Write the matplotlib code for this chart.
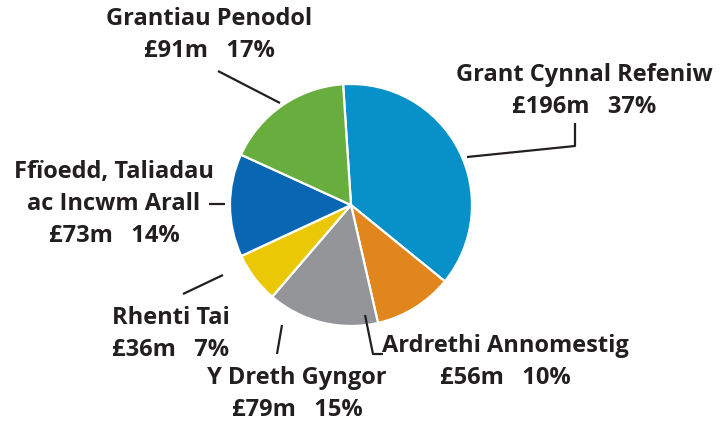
import matplotlib.pyplot as plt

plt.rcParams['font.family'] = ['Open Sans', 'DejaVu Sans']

# income sources, clockwise from the top
names = ['Grant Cynnal Refeniw', 'Ardrethi Annomestig', 'Y Dreth Gyngor',
         'Rhenti Tai', 'Ffïoedd, Taliadau\nac Incwm Arall', 'Grantiau Penodol']
amounts = [196, 56, 79, 36, 73, 91]      # £m
percents = [37, 10, 15, 7, 14, 17]
colors = ['#0791c8', '#e0861c', '#939598', '#ebc806', '#0866b3', '#67ae3e']

# label anchor (pixel coords, y from top) and leader polylines
label_pos = [(584, 91), (505, 362), (297, 394), (171, 334), (114, 204), (209, 35)]
leaders = [
    [(467, 157), (575, 146), (575, 123)],
    [(365, 315), (373, 354), (383, 354)],
    [(277, 354), (282, 325)],
    [(183, 294), (223, 275)],
    [(209, 204), (225, 204)],
    [(218, 71), (280, 103)],
]

W, H = 727, 423
fig = plt.figure(figsize=(W / 100, H / 100), dpi=100)
ax = fig.add_axes([0, 0, 1, 1])
ax.set_xlim(0, W)
ax.set_ylim(0, H)
ax.set_aspect('equal')
ax.axis('off')

ax.pie(amounts, colors=colors, center=(351, H - 205), radius=121,
       startangle=93.75, counterclock=False,
       wedgeprops=dict(edgecolor='white', linewidth=1.6))

txt = '#231f20'
for name, amt, pct, (x, y), pts in zip(names, amounts, percents, label_pos, leaders):
    ax.text(x, H - y, f'{name}\n£{amt}m   {pct}%', ha='center', va='center',
            multialignment='center', fontsize=17, fontweight='bold',
            color=txt, linespacing=1.42)
    xs = [p[0] for p in pts]
    ys = [H - p[1] for p in pts]
    ax.plot(xs, ys, color=txt, linewidth=1.6, solid_capstyle='butt')

ax.set_xlim(0, W)
ax.set_ylim(0, H)
fig.savefig('out.png', dpi=100)
